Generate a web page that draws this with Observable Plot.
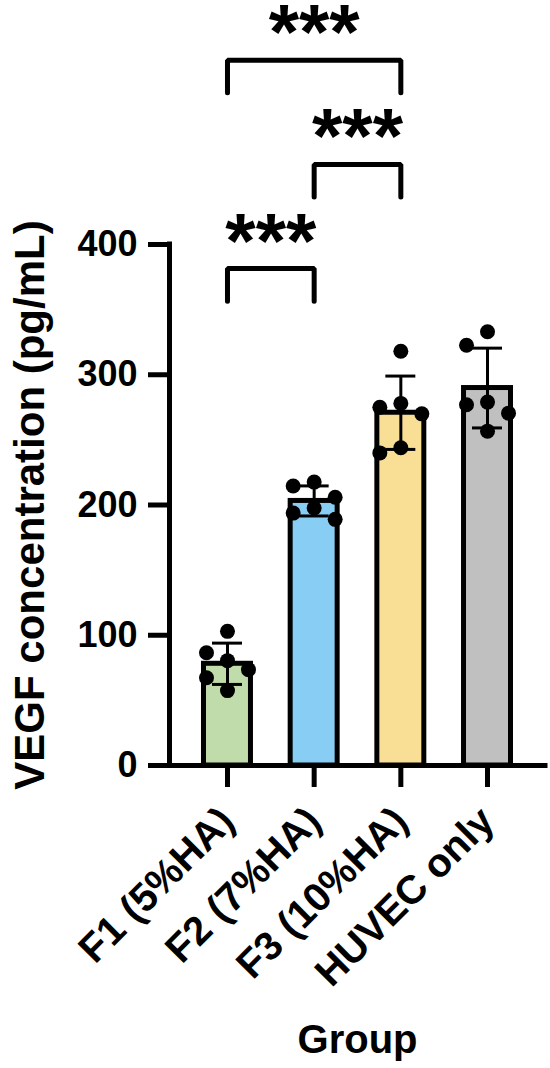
<!DOCTYPE html>
<html>
<head>
<meta charset="utf-8">
<script src="https://cdn.jsdelivr.net/npm/d3@7"></script>
<script src="https://cdn.jsdelivr.net/npm/@observablehq/plot@0.6"></script>
<style>
  html, body { margin: 0; padding: 0; background: #ffffff; }
  #chart svg { display: block; }
</style>
</head>
<body>
<div id="chart"></div>
<script>
// ---------------- data ----------------
const groups = ["F1 (5%HA)", "F2 (7%HA)", "F3 (10%HA)", "HUVEC only"];
const f1Values = [103, 86.6, 80.5, 73.6, 67.4, 57.5];
const f2Values = [217.6, 214.6, 206, 197.7, 193.8, 189];
const f3Values = [318, 278, 275, 270, 244, 240];
const huvecValues = [333, 322.6, 279, 277, 270.5, 256.7];
const barColors = ["#c0dcaa", "#88cef4", "#f9de95", "#c0c0c0"];
const yTicks = [0, 100, 200, 300, 400];
const comparisonA = ["F1 (5%HA)", "F2 (7%HA)", "F1 (5%HA)"];
const comparisonB = ["F2 (7%HA)", "F3 (10%HA)", "F3 (10%HA)"];
const comparisonLabels = ["***", "***", "***"];
const xLabel = "Group";
const yLabel = "VEGF concentration (pg/mL)";

// ---------------- layout ----------------
const W = 550, H = 1068;
const margin = {left: 169, right: 5, top: 244, bottom: 303};
const xDomain = [-0.669, 3.669];
const yDomain = [0, 400];
const barHalf = 0.271, capHalf = 0.173, dotR = 7.5;
const pxPerX = (W - margin.left - margin.right) / (xDomain[1] - xDomain[0]);
const pxPerY = (H - margin.top - margin.bottom) / (yDomain[1] - yDomain[0]);

const seriesValues = [f1Values, f2Values, f3Values, huvecValues];
const summary = groups.map((g, i) => {
  const v = seriesValues[i];
  const mean = d3.mean(v), sd = d3.deviation(v);
  return {group: g, i, mean, lo: mean - sd, hi: mean + sd, color: barColors[i]};
});

// simple column beeswarm: highest values first, centre column first
function swarmColumns(values, minGapPx) {
  const order = d3.range(values.length).sort((a, b) => values[b] - values[a]);
  const cols = new Map();
  const out = [];
  for (const k of order) {
    for (const c of [0, -1, 1, -2, 2, -3, 3]) {
      const list = cols.get(c) || [];
      if (list.every(v => Math.abs(v - values[k]) * pxPerY >= minGapPx)) {
        list.push(values[k]); cols.set(c, list); out[k] = c; break;
      }
    }
  }
  return out;
}
const colStep = 21 / pxPerX;
const points = groups.flatMap((g, i) => {
  const cols = swarmColumns(seriesValues[i], 22);
  return seriesValues[i].map((v, k) => ({group: g, x: i + cols[k] * colStep, value: v}));
});

// significance brackets stacked upward
const bracketBase = 381.5, bracketStep = 80, bracketDrop = 25;
const brackets = comparisonLabels.map((label, k) => {
  const level = bracketBase + k * bracketStep;
  return {k, x1: groups.indexOf(comparisonA[k]), x2: groups.indexOf(comparisonB[k]), level, bottom: level - bracketDrop, label};
});
const bracketPath = brackets.flatMap(d => [
  {k: d.k, x: d.x1, y: d.bottom}, {k: d.k, x: d.x1, y: d.level},
  {k: d.k, x: d.x2, y: d.level}, {k: d.k, x: d.x2, y: d.bottom}
]);

const chart = Plot.plot({
  width: W, height: H,
  marginLeft: margin.left, marginRight: margin.right, marginTop: margin.top, marginBottom: margin.bottom,
  x: {domain: xDomain, axis: null},
  y: {domain: yDomain, axis: null},
  color: {type: "identity"},
  style: {fontFamily: "'Liberation Sans', Arial, sans-serif", fontWeight: "bold", color: "#000", background: "#fff"},
  marks: [
    Plot.rect(summary, {x1: d => d.i - barHalf, x2: d => d.i + barHalf, y1: 0, y2: "mean", fill: "color", stroke: "#000", strokeWidth: 5}),
    Plot.ruleX(summary, {x: "i", y1: "lo", y2: "hi", stroke: "#000", strokeWidth: 3}),
    Plot.ruleY(summary, {y: "hi", x1: d => d.i - capHalf, x2: d => d.i + capHalf, stroke: "#000", strokeWidth: 3}),
    Plot.ruleY(summary, {y: "lo", x1: d => d.i - capHalf, x2: d => d.i + capHalf, stroke: "#000", strokeWidth: 3}),
    Plot.dot(points, {x: "x", y: "value", r: dotR, fill: "#000", stroke: "none"}),
    Plot.ruleY([0], {stroke: "#000", strokeWidth: 5, strokeLinecap: "square"}),
    Plot.ruleX([xDomain[0]], {y1: yDomain[0], y2: yDomain[1], stroke: "#000", strokeWidth: 5, strokeLinecap: "square"}),
    Plot.axisY({ticks: yTicks, tickSize: 21, tickPadding: 11, fontSize: 36, strokeWidth: 5, label: null}),
    Plot.axisX({ticks: groups.map((_, i) => i), tickFormat: i => groups[i], tickRotate: -45, tickSize: 22, tickPadding: 27, fontSize: 40, strokeWidth: 5, label: null}),
    Plot.line(bracketPath, {x: "x", y: "y", z: "k", stroke: "#000", strokeWidth: 5, strokeLinejoin: "miter", strokeLinecap: "round"}),
    Plot.text(brackets, {x: d => (d.x1 + d.x2) / 2, y: "level", text: "label", fontSize: 78, lineAnchor: "bottom", dy: -1}),
    Plot.text([yLabel], {frameAnchor: "left", rotate: -90, dx: -126, textAnchor: "middle", lineAnchor: "bottom", fontSize: 42}),
    Plot.text([xLabel], {frameAnchor: "bottom", dy: 287, lineAnchor: "bottom", fontSize: 40})
  ]
});
document.getElementById("chart").appendChild(chart);
</script>
</body>
</html>
